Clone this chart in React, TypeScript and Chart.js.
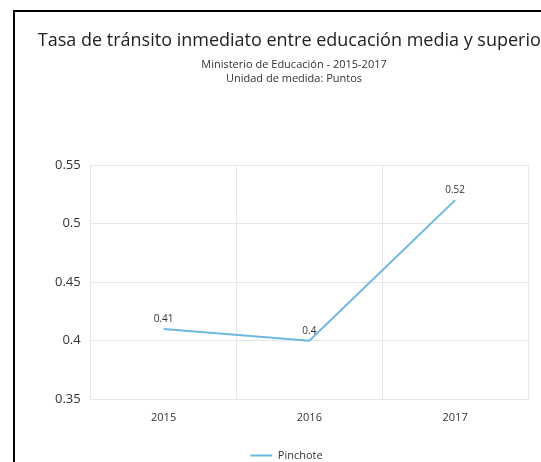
import React, { useEffect, useRef } from 'react';
import { Chart, registerables } from 'chart.js';

Chart.register(...registerables);

const categories = ['2015', '2016', '2017'];
const seriesName = 'Pinchote';
const values = [0.41, 0.4, 0.52];
const yTicks = [0.35, 0.4, 0.45, 0.5, 0.55];
const titleText = 'Tasa de tránsito inmediato entre educación media y superior';
const subtitleLines = ['Ministerio de Educación - 2015-2017', 'Unidad de medida: Puntos'];

const FONT = '"Open Sans", "Noto Sans", sans-serif';
const LINE_COLOR = '#6cb8e0';
const GRID = '#e6e6e6';

export default function App() {
  const ref = useRef<HTMLCanvasElement>(null);

  useEffect(() => {
    if (!ref.current) return;
    const titlePlugin = {
      id: 'customTitles',
      afterDraw(chart: any) {
        const ctx = chart.ctx;
        ctx.save();
        const cx = chart.width / 2 + 16;
        ctx.textAlign = 'center';
        ctx.textBaseline = 'alphabetic';
        ctx.fillStyle = '#222';
        ctx.font = `18px ${FONT}`;
        ctx.fillText(titleText, cx - 1, 34);
        ctx.fillStyle = '#333';
        ctx.font = `11px ${FONT}`;
        subtitleLines.forEach((t, i) => ctx.fillText(t, cx, 56 + i * 13.5));
        ctx.restore();
      },
    };
    const dataLabelPlugin = {
      id: 'dataLabels',
      afterDatasetsDraw(chart: any) {
        const ctx = chart.ctx;
        ctx.save();
        ctx.font = `10px ${FONT}`;
        ctx.fillStyle = '#333';
        ctx.textAlign = 'center';
        ctx.textBaseline = 'middle';
        chart.data.datasets.forEach((ds: any, di: number) => {
          const meta = chart.getDatasetMeta(di);
          meta.data.forEach((pt: any, i: number) => {
            ctx.fillText(String(ds.data[i]), pt.x, pt.y - 10);
          });
        });
        ctx.restore();
      },
    };

    const chart = new Chart(ref.current, {
      type: 'line',
      data: {
        labels: categories,
        datasets: [
          {
            label: seriesName,
            data: values,
            borderColor: LINE_COLOR,
            backgroundColor: LINE_COLOR,
            borderWidth: 2,
            pointRadius: 0,
            pointHoverRadius: 0,
            tension: 0,
            fill: false,
          },
        ],
      },
      options: {
        animation: false,
        responsive: false,
        layout: { padding: { left: 30, right: 13, top: 153, bottom: 0 } },
        plugins: {
          title: { display: false },
          tooltip: { enabled: false },
          legend: {
            position: 'bottom',
            labels: {
              usePointStyle: true,
              pointStyle: 'line',
              pointStyleWidth: 22,
              boxHeight: 2,
              padding: 13.5,
              color: '#333',
              font: { family: FONT, size: 11 },
            },
          },
        },
        scales: {
          x: {
            offset: true,
            grid: { offset: true, color: GRID, drawTicks: false },
            border: { color: GRID },
            ticks: { padding: 12, color: '#333', font: { family: FONT, size: 11 } },
          },
          y: {
            min: 0.35,
            max: 0.55,
            afterBuildTicks: (scale: any) => {
              scale.ticks = yTicks.map((v) => ({ value: v }));
            },
            grid: { color: GRID, drawTicks: false },
            border: { color: GRID },
            ticks: {
              padding: 10,
              color: '#333',
              font: { family: FONT, size: 13 },
              callback: (v: any) => String(Number(Number(v).toFixed(2))),
            },
          },
        },
      },
      plugins: [titlePlugin, dataLabelPlugin],
    });
    return () => chart.destroy();
  }, []);

  return (
    <div
      style={{
        position: 'fixed',
        left: 13,
        top: 10,
        right: 0,
        bottom: 0,
        overflow: 'hidden',
        borderLeft: '2px solid #000',
        borderTop: '2px solid #000',
        background: '#fff',
      }}
    >
      <canvas ref={ref} width={526} height={459} style={{ display: 'block' }} />
    </div>
  );
}
